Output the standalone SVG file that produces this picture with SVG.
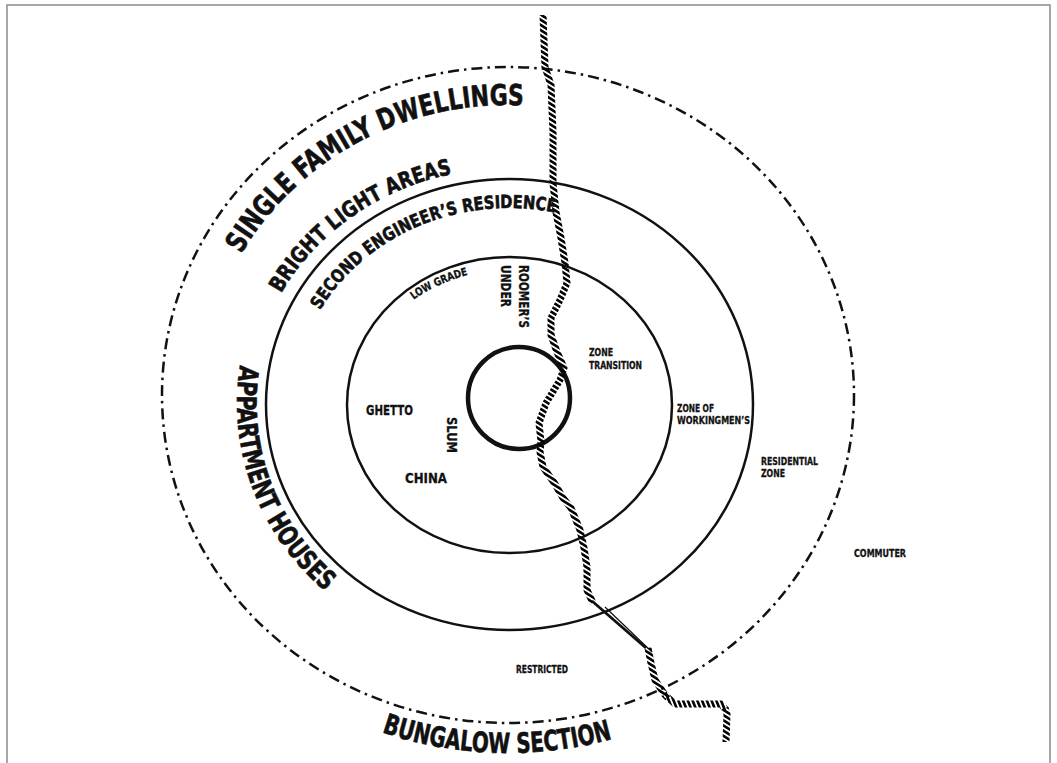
<svg xmlns="http://www.w3.org/2000/svg" width="1057" height="763" viewBox="0 0 1057 763">
  <defs>
    <style>
      .t { font-family: "Liberation Sans Narrow", "DejaVu Sans Condensed", "Liberation Sans", sans-serif; font-weight: 700; fill: #111; stroke: #111; stroke-width: 0.6; stroke-linejoin: round; }
      .s { stroke-width: 0.3; }
      .ring { fill: none; stroke: #111; stroke-width: 2.5; }
      .dash { fill: none; stroke: #111; stroke-width: 2.5; stroke-dasharray: 11 5 2.5 5; }
      .river { fill: none; stroke: url(#hatchV); stroke-width: 7; stroke-linejoin: round; }
      .riverH { fill: none; stroke: url(#hatchH); stroke-width: 7; stroke-linejoin: round; }
    </style>
    <pattern id="hatchV" patternUnits="userSpaceOnUse" width="4.4" height="8" patternTransform="rotate(-58)">
      <rect x="0" y="0" width="2.6" height="8" fill="#000"/>
    </pattern>
    <pattern id="hatchH" patternUnits="userSpaceOnUse" width="4.4" height="8" patternTransform="rotate(-22)">
      <rect x="0" y="0" width="2.6" height="8" fill="#000"/>
    </pattern>
    <path id="pSingle" d="M 241.5 254 A 305 290 0 0 1 586.9 114.9"/>
    <path id="pBright" d="M 281 293.6 A 258 236 0 0 1 531.5 168.9"/>
    <path id="pSecond" d="M 320.2 310.2 A 215 196 0 0 1 599.9 226.4"/>
    <path id="pLow" d="M 413.6 299.8 A 153 135 0 0 1 509.5 270"/>
    <path id="pApart" d="M 240.2 365.1 A 272 254 0 0 0 373 624"/>
    <path id="pBung" d="M 381.9 732.3 A 376 358 0 0 0 696 705"/>
  </defs>

  <rect x="0" y="0" width="1057" height="763" fill="#fff"/>
  <rect x="7" y="5" width="1043" height="800" fill="none" stroke="#8a8a8a" stroke-width="1.5"/>

  <g id="zones">
    <ellipse id="commuter-ring" class="dash" cx="508" cy="395" rx="346" ry="328"/>
    <ellipse id="residential-ring" class="ring" cx="509.5" cy="404.5" rx="243.5" ry="225.5"/>
    <ellipse id="workingmen-ring" class="ring" cx="509.5" cy="405" rx="162.5" ry="148"/>
    <circle id="loop" cx="519" cy="398" r="51" fill="none" stroke="#111" stroke-width="4.5"/>
  </g>

  <g id="connectors">
    <path class="river" d="M543,15 L545,67 L551,85 L553,133 L553,183 L556,212 L561,238 L565,263 L567,283 L560,300 L551,318 L551,335 L557,352 L564,368 L560,380 L546,403 L539,423 L541,442 L540,452 L543,467 L555,484 L563,498 L571,508 L580,530 L584,548 L587,567 L587,590 L593,603"/>
    <line x1="592" y1="601" x2="646" y2="648" stroke="#111" stroke-width="2.8"/>
    <line x1="605" y1="607" x2="652" y2="652" stroke="#111" stroke-width="1.2"/>
    <path class="river" d="M648,648 L651,663 L655,680 L663,692 L668,698"/>
    <path class="riverH" d="M664,694 L675,704 L721,704 L726,710"/>
    <path class="river" d="M725,708 L727,714 L726,742"/>
  </g>

  <g id="label-single-family">
    <text class="t" font-size="29"><textPath href="#pSingle" textLength="335" lengthAdjust="spacingAndGlyphs">SINGLE FAMILY DWELLINGS</textPath></text>
  </g>
  <g id="label-bright-light">
    <text class="t" font-size="22"><textPath href="#pBright" textLength="215" lengthAdjust="spacingAndGlyphs">BRIGHT LIGHT AREAS</textPath></text>
  </g>
  <g id="label-second-engineer">
    <text class="t" font-size="18"><textPath href="#pSecond" textLength="271" lengthAdjust="spacingAndGlyphs">SECOND ENGINEER’S RESIDENCE</textPath></text>
  </g>
  <g id="label-low-grade">
    <text class="t s" font-size="11"><textPath href="#pLow" textLength="60" lengthAdjust="spacingAndGlyphs">LOW GRADE</textPath></text>
  </g>
  <g id="label-appartment">
    <text class="t" font-size="27"><textPath href="#pApart" textLength="253" lengthAdjust="spacingAndGlyphs">APPARTMENT HOUSES</textPath></text>
  </g>
  <g id="label-bungalow">
    <text class="t" font-size="28"><textPath href="#pBung" textLength="234" lengthAdjust="spacingAndGlyphs">BUNGALOW SECTION</textPath></text>
  </g>

  <g id="label-roomers">
    <text class="t s" font-size="13.5" transform="translate(518.5,265) rotate(90)" textLength="63" lengthAdjust="spacingAndGlyphs">ROOMER’S</text>
    <text class="t s" font-size="13.5" transform="translate(501,265) rotate(90)" textLength="42" lengthAdjust="spacingAndGlyphs">UNDER</text>
  </g>
  <g id="label-ghetto">
    <text class="t s" font-size="14.5" x="366" y="415" textLength="47" lengthAdjust="spacingAndGlyphs">GHETTO</text>
  </g>
  <g id="label-china">
    <text class="t s" font-size="14.5" x="405" y="483" textLength="42" lengthAdjust="spacingAndGlyphs">CHINA</text>
  </g>
  <g id="label-slum">
    <text class="t s" font-size="14.5" transform="translate(447,417) rotate(90)" textLength="36" lengthAdjust="spacingAndGlyphs">SLUM</text>
  </g>
  <g id="label-zone-transition">
    <text class="t s" font-size="10.5" x="589" y="356" textLength="24" lengthAdjust="spacingAndGlyphs">ZONE</text>
    <text class="t s" font-size="10.5" x="589" y="369" textLength="53" lengthAdjust="spacingAndGlyphs">TRANSITION</text>
  </g>
  <g id="label-workingmen">
    <text class="t s" font-size="11" x="677" y="412" textLength="37" lengthAdjust="spacingAndGlyphs">ZONE OF</text>
    <text class="t s" font-size="11" x="677" y="424" textLength="73" lengthAdjust="spacingAndGlyphs">WORKINGMEN’S</text>
  </g>
  <g id="label-residential">
    <text class="t s" font-size="11" x="761" y="465" textLength="57" lengthAdjust="spacingAndGlyphs">RESIDENTIAL</text>
    <text class="t s" font-size="11" x="761" y="477" textLength="24" lengthAdjust="spacingAndGlyphs">ZONE</text>
  </g>
  <g id="label-commuter">
    <text class="t s" font-size="11" x="854" y="557" textLength="52" lengthAdjust="spacingAndGlyphs">COMMUTER</text>
  </g>
  <g id="label-restricted">
    <text class="t s" font-size="11" x="516" y="673" textLength="52" lengthAdjust="spacingAndGlyphs">RESTRICTED</text>
  </g>
</svg>
